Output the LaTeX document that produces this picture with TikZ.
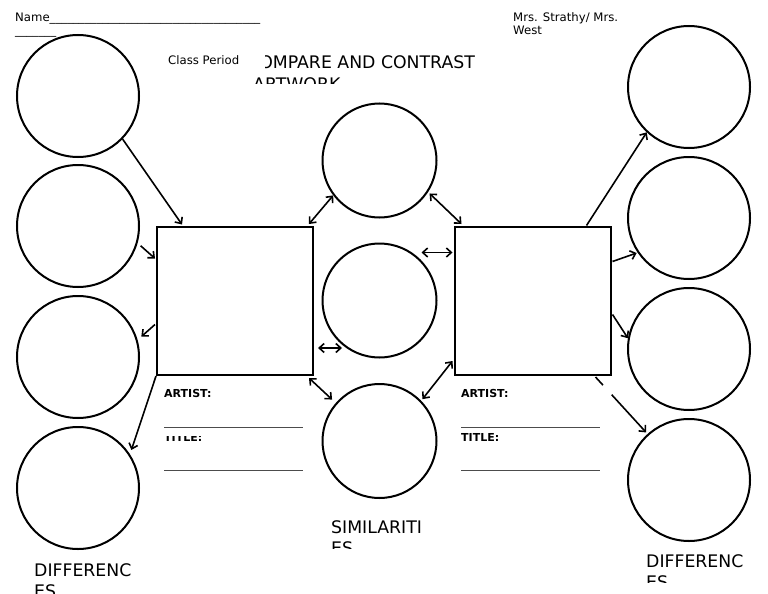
\documentclass[tikz,border=0pt]{standalone}
\usepackage{fontspec}
\setmainfont{DejaVu Sans}
\usetikzlibrary{arrows.meta,calc}
\begin{document}
\begin{tikzpicture}[x=1pt,y=-1pt,
  circ/.style={circle,draw,line width=2pt,minimum size=122pt,inner sep=0pt},
  mcirc/.style={circle,draw,line width=2pt,minimum size=114pt,inner sep=0pt},
  box/.style={draw,line width=2pt,minimum width=156pt,minimum height=148.5pt,inner sep=0pt},
  tip/.tip={Straight Barb[length=5pt,width=9pt]},
  conn/.style={line width=1.6pt,-tip},
  dconn/.style={line width=1.6pt,tip-tip},
  small/.style={font=\fontsize{11.7}{13}\selectfont,inner sep=0pt,anchor=base west},
  big/.style={font=\fontsize{17.3}{21}\selectfont,inner sep=0pt,anchor=base west},
  lbl/.style={font=\fontsize{11}{13}\bfseries\selectfont,inner sep=0pt,anchor=base west},
  blank/.style={line width=0.9pt,black!70}
]
\useasboundingbox[fill=white] (0,0) rectangle (768,594);

% header texts
\node[small] (name) at (15,22) {Name\_\_\_\_\_\_\_\_\_\_\_\_\_\_\_\_\_\_\_\_\_\_\_\_\_\_\_\_\_\_\_\_\_\_\_\_};
\node[small] (name2) at (15,34.5) {\_\_\_\_\_\_\_};
\node[small] (period) at (168,64) {Class Period};
\node[small] (teach1) at (513,22) {Mrs. Strathy/ Mrs.};
\node[small] (teach2) at (513,35) {West};
\begin{scope}
  \clip (265,40) rectangle (500,75);
  \node[big] (title1) at (247,69) {COMPARE AND CONTRAST};
\end{scope}
\begin{scope}
  \clip (240,75) rectangle (370,83.5);
  \node[big] (title2) at (253,90) {ARTWORK};
\end{scope}

% circles
\node[circ] (L1) at (78,96) {};
\node[circ] (L2) at (78,226) {};
\node[circ] (L3) at (78,357) {};
\node[circ] (L4) at (78,488) {};
\node[circ] (R1) at (689,87) {};
\node[circ] (R2) at (689,218) {};
\node[circ] (R3) at (689,349) {};
\node[circ] (R4) at (689,480) {};
\node[mcirc] (M1) at (379.5,160.5) {};
\node[mcirc] (M2) at (379.5,300.5) {};
\node[mcirc] (M3) at (379.5,441) {};

% boxes
\node[box] (LR) at (235,300.75) {};
\node[box] (RR) at (532.5,300.75) {};

% artist / title labels
\node[lbl] (art1) at (164,397) {ARTIST:};
\draw[blank] (164,427) -- (303,427);
\begin{scope}
  \clip (150,436) rectangle (320,450);
  \node[lbl] (tit1) at (164,441) {TITLE:};
\end{scope}
\draw[blank] (164,470) -- (303,470);
\node[lbl] (art2) at (461,397) {ARTIST:};
\draw[blank] (461,427) -- (600,427);
\node[lbl] (tit2) at (461,441) {TITLE:};
\draw[blank] (461,470) -- (600,470);

% bottom labels
\node[big] (sim1) at (331,533) {SIMILARITI};
\begin{scope}
  \clip (320,535) rectangle (440,548);
  \node[big] (sim2) at (331,554) {ES};
\end{scope}
\node[big] (dl1) at (34,576) {DIFFERENC};
\begin{scope}
  \clip (20,579) rectangle (140,594);
  \node[big] (dl2) at (34,597) {ES};
\end{scope}
\node[big] (dr1) at (646,567) {DIFFERENC};
\begin{scope}
  \clip (630,570) rectangle (768,582.5);
  \node[big] (dr2) at (646,588) {ES};
\end{scope}

% connectors left
\draw[conn] (L1.-44) -- ($(LR.north west)+(26,-1)$);
\draw[conn,shorten <=4pt] (L2.-16) -- ($(LR.north west)+(-1,33)$);
\draw[conn,shorten >=5pt] ($(LR.north west)+(-1,99)$) -- (L3.16);
\draw[conn,shorten >=4.5pt] (LR.south west) -- (L4.33);

% connectors middle
\draw[dconn] ($(LR.north east)+(-5,-1.5)$) -- (M1.217);
\draw[dconn,shorten <=2pt] (M1.-33) -- ($(RR.north west)+(8,-1.5)$);
\draw[dconn] ($(RR.north west)+(-32,27)$) -- ($(RR.north west)+(-1,27)$);
\draw[dconn] ($(LR.north east)+(4,122.5)$) -- ($(LR.north east)+(28,122.5)$);
\draw[dconn,shorten >=5pt] ($(LR.south east)+(-5,2)$) -- (M3.139);
\draw[dconn,shorten >=2pt] ($(RR.south west)+(-1,-15)$) -- (M3.44);

% connectors right
\draw[conn] ($(RR.north east)+(-25,0)$) -- (R1.227);
\draw[conn,shorten >=1pt] ($(RR.north east)+(1,36)$) -- (R2.214);
\draw[conn] ($(RR.north east)+(1,89)$) -- (R3.170);
\draw[conn,shorten >=2pt,dash pattern=on 11pt off 13pt on 200pt] ($(RR.south east)+(-16,1)$) -- (R4.132);
\end{tikzpicture}
\end{document}
